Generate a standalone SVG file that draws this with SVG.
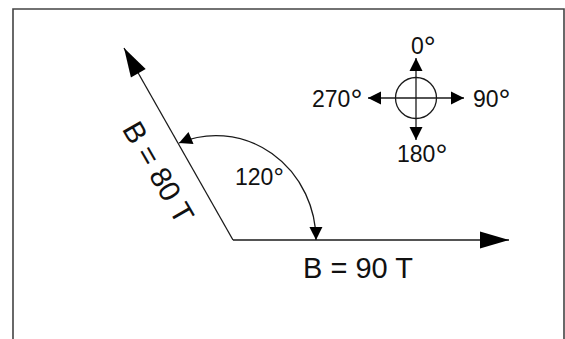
<svg xmlns="http://www.w3.org/2000/svg" width="565" height="339" viewBox="0 0 565 339">
<style>
.ln{stroke:#1a1a1a;stroke-width:1.3;fill:none}
.t{font-family:"Liberation Sans",Arial,Helvetica,sans-serif;fill:#111}
.deg{font-size:30px}
.frame{stroke:#444;stroke-width:1.6;fill:none}
</style>
<defs>
<marker id="big" markerUnits="userSpaceOnUse" markerWidth="32" markerHeight="20" viewBox="0 -10 30 20" refX="29" refY="0" orient="auto-start-reverse">
<path d="M0,-8.5 L29,0 L0,8.5 z" fill="#000"/>
</marker>
<marker id="small" markerUnits="userSpaceOnUse" markerWidth="15" markerHeight="16" viewBox="0 -8 14 16" refX="13" refY="0" orient="auto-start-reverse">
<path d="M0,-6.5 L13,0 L0,6.5 z" fill="#000"/>
</marker>
</defs>
<rect width="565" height="339" fill="#fff"/>
<path class="frame" d="M13,339 L13,9 L564,9 L564,339"/>
<g id="connectors">
<line id="b90" class="ln" x1="233" y1="240" x2="509" y2="240" marker-end="url(#big)"/>
<line id="b80" class="ln" x1="233" y1="240" x2="124" y2="48" marker-end="url(#big)"/>
<path id="angle" class="ln" d="M179,143 A100,105 0 0 1 316,240" marker-start="url(#small)" marker-end="url(#small)"/>
</g>
<g id="compass">
<circle class="ln" cx="416" cy="98" r="20.5"/>
<line class="ln" x1="368" y1="98" x2="464" y2="98" marker-start="url(#small)" marker-end="url(#small)"/>
<line class="ln" x1="416" y1="58" x2="416" y2="140" marker-start="url(#small)" marker-end="url(#small)"/>
<text class="t" x="411" y="54" font-size="23">0<tspan class="deg" dy="2.5">°</tspan></text>
<text class="t" x="312" y="107" font-size="23">270<tspan class="deg" dy="2.5">°</tspan></text>
<text class="t" x="473" y="107" font-size="23">90<tspan class="deg" dy="2.5">°</tspan></text>
<text class="t" x="397" y="162" font-size="23">180<tspan class="deg" dy="2.5">°</tspan></text>
</g>
<g id="label-120">
<text class="t" x="235" y="185" font-size="23">120<tspan font-size="26" dy="1">°</tspan></text>
</g>
<g id="label-b90">
<text class="t" x="303" y="278" font-size="29">B = 90 T</text>
</g>
<g id="label-b80">
<text class="t" transform="translate(233,240) rotate(60)" x="-96" y="41" font-size="29.5" text-anchor="middle">B = 80 T</text>
</g>
</svg>
